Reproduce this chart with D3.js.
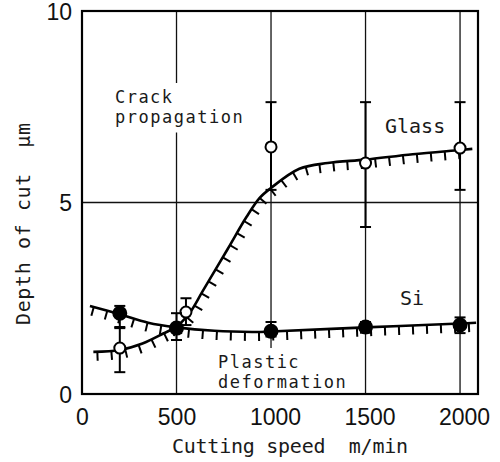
<!DOCTYPE html>
<html>
<head>
<meta charset="utf-8">
<script src="https://cdn.jsdelivr.net/npm/d3@7"></script>
<style>
  body { margin: 0; background: #fff; }
  svg { display: block; }
  .mono { font-family: "DejaVu Sans Mono", monospace; font-size: 20px; fill: #1a1a1a; }
  .note { font-size: 17px; }
  .num { font-family: "Liberation Sans", Arial, sans-serif; font-size: 23px; fill: #111; }
</style>
</head>
<body>
<div id="chart"></div>
<script>
// measured points (cutting speed m/min, depth of cut um)
let glassSpeed = [200, 550, 1000, 1500, 2000]
let glassDepth = [1.2, 2.14, 6.45, 6.03, 6.42]
let glassLow = [0.57, 1.8, 5.33, 4.36, 5.33]
let glassHigh = [1.75, 2.5, 7.62, 7.62, 7.62]

let siSpeed = [200, 500, 1000, 1500, 2000]
let siDepth = [2.11, 1.72, 1.64, 1.75, 1.8]
let siLow = [1.72, 1.41, 1.5, 1.6, 1.59]
let siHigh = [2.3, 2.11, 1.88, 1.88, 2.0]

// hand-drawn boundary curves
let glassCurveX = [60, 200, 320, 430, 500, 570, 640, 770, 870, 940, 1000, 1150, 1300, 1500, 1750, 2000, 2065]
let glassCurveY = [1.1, 1.15, 1.32, 1.58, 1.76, 2.12, 2.7, 3.78, 4.62, 5.12, 5.38, 5.88, 6.03, 6.12, 6.26, 6.37, 6.4]
let siCurveX = [42, 200, 350, 500, 700, 900, 1000, 1500, 2000, 2085]
let siCurveY = [2.3, 2.08, 1.86, 1.74, 1.65, 1.62, 1.63, 1.74, 1.84, 1.86]

let xTicks = [0, 500, 1000, 1500, 2000]
let yTicks = [0, 5, 10]
let xGrid = [500, 1000, 1500, 2000]
let yGrid = [5]

let width = 500
let height = 462
let margin = { top: 11, right: 22, bottom: 68, left: 82 }

let x = d3.scaleLinear()
    .domain([0, 2095])
    .range([margin.left, width - margin.right])

let y = d3.scaleLinear()
    .domain([0, 10])
    .range([height - margin.bottom, margin.top])

let svg = d3.select('#chart')
    .append('svg')
    .attr('width', width)
    .attr('height', height)

// grid
svg.append('g').selectAll('line').data(xGrid).join('line')
    .attr('x1', d => x(d)).attr('x2', d => x(d))
    .attr('y1', y(10)).attr('y2', y(0))
    .attr('stroke', '#111').attr('stroke-width', 1.3)

svg.append('g').selectAll('line').data(yGrid).join('line')
    .attr('x1', x.range()[0]).attr('x2', x.range()[1])
    .attr('y1', d => y(d)).attr('y2', d => y(d))
    .attr('stroke', '#111').attr('stroke-width', 1.3)

// region labels with white backing
let note = (lines, x0, y0, gap) => {
  let g = svg.append('g')
  g.append('rect')
    .attr('x', x0 - 4).attr('y', y0 - 20)
    .attr('width', d3.max(lines, s => s.length) * 11.8 + 8)
    .attr('height', gap * (lines.length - 1) + 30)
    .attr('fill', '#fff')
  g.selectAll('text').data(lines).join('text')
    .attr('class', 'mono note')
    .attr('x', x0)
    .attr('y', (d, i) => y0 + i * gap)
    .attr('textLength', d => d.length * 11.8 - 2)
    .text(d => d)
}
note(['Crack', 'propagation'], 115, 103, 19.5)
note(['Plastic', 'deformation'], 218, 368, 19.5)

svg.append('text').attr('class', 'mono').attr('x', 385).attr('y', 133).text('Glass')
svg.append('text').attr('class', 'mono').attr('x', 400).attr('y', 305).text('Si')

// curves with hatching
let line = d3.line()
    .x(d => x(d[0]))
    .y(d => y(d[1]))
    .curve(d3.curveCatmullRom.alpha(0.5))

let hatchCurve = (xs, ys, step, len) => {
  let path = svg.append('path')
    .datum(xs.map((v, i) => [v, ys[i]]))
    .attr('d', line)
    .attr('fill', 'none')
    .attr('stroke', '#000')
    .attr('stroke-width', 2.6)
  let node = path.node()
  let total = node.getTotalLength()
  let ticks = []
  for (let s = 4; s < total; s += step) {
    let p = node.getPointAtLength(s)
    let a = node.getPointAtLength(Math.max(s - 1, 0))
    let b = node.getPointAtLength(Math.min(s + 1, total))
    let dx = b.x - a.x, dy = b.y - a.y
    let n = Math.hypot(dx, dy)
    ticks.push([p.x, p.y, p.x - dy / n * len, p.y + dx / n * len])
  }
  svg.append('g').selectAll('line').data(ticks).join('line')
    .attr('x1', d => d[0]).attr('y1', d => d[1])
    .attr('x2', d => d[2]).attr('y2', d => d[3])
    .attr('stroke', '#000')
    .attr('stroke-width', 2)
}
hatchCurve(glassCurveX, glassCurveY, 14, 9)
hatchCurve(siCurveX, siCurveY, 14, 9)

// error bars + markers
let points = (speed, depth, low, high, filled) => {
  let rows = speed.map((s, i) => ({ s: s, v: depth[i], lo: low[i], hi: high[i] }))
  let g = svg.append('g')
  g.selectAll('.bar').data(rows).join('line')
    .attr('x1', d => x(d.s)).attr('x2', d => x(d.s))
    .attr('y1', d => y(d.lo)).attr('y2', d => y(d.hi))
    .attr('stroke', '#000').attr('stroke-width', 2)
  g.selectAll('.cap').data(rows.flatMap(d => [d.lo, d.hi].map(v => ({ s: d.s, v: v })))).join('line')
    .attr('x1', d => x(d.s) - 5.5).attr('x2', d => x(d.s) + 5.5)
    .attr('y1', d => y(d.v)).attr('y2', d => y(d.v))
    .attr('stroke', '#000').attr('stroke-width', 2)
  g.selectAll('circle').data(rows).join('circle')
    .attr('cx', d => x(d.s))
    .attr('cy', d => y(d.v))
    .attr('r', filled ? 6.5 : 5.5)
    .attr('fill', filled ? '#000' : '#fff')
    .attr('stroke', '#000')
    .attr('stroke-width', 2)
}
points(glassSpeed, glassDepth, glassLow, glassHigh, false)
points(siSpeed, siDepth, siLow, siHigh, true)

// frame
svg.append('rect')
    .attr('x', x.range()[0]).attr('y', y(10))
    .attr('width', x.range()[1] - x.range()[0])
    .attr('height', y(0) - y(10))
    .attr('fill', 'none')
    .attr('stroke', '#000')
    .attr('stroke-width', 2.2)

// axes
let xAxis = svg.append('g')
    .attr('transform', `translate(0,${y(0)})`)
    .call(d3.axisBottom(x).tickValues(xTicks).tickSize(0).tickFormat(d3.format('d')))
xAxis.select('.domain').remove()
xAxis.selectAll('text')
    .attr('class', 'num')
    .attr('font-family', null).attr('font-size', null)
    .attr('y', 31).attr('dy', null).attr('dx', (d, i) => i > 1 ? 4 : 0)

let yAxis = svg.append('g')
    .attr('transform', `translate(${x(0)},0)`)
    .call(d3.axisLeft(y).tickValues(yTicks).tickSize(0).tickPadding(10))
yAxis.select('.domain').remove()
yAxis.selectAll('text')
    .attr('class', 'num')
    .attr('font-family', null).attr('font-size', null)
    .attr('dy', '0.36em')

svg.append('text')
    .attr('class', 'mono')
    .attr('x', 172)
    .attr('y', 453)
    .attr('textLength', 236)
    .attr('xml:space', 'preserve')
    .text('Cutting speed  m/min')

svg.append('text')
    .attr('class', 'mono')
    .attr('transform', 'translate(30,325) rotate(-90)')
    .attr('textLength', 202)
    .attr('xml:space', 'preserve')
    .text('Depth of cut  μm')
</script>
</body>
</html>
